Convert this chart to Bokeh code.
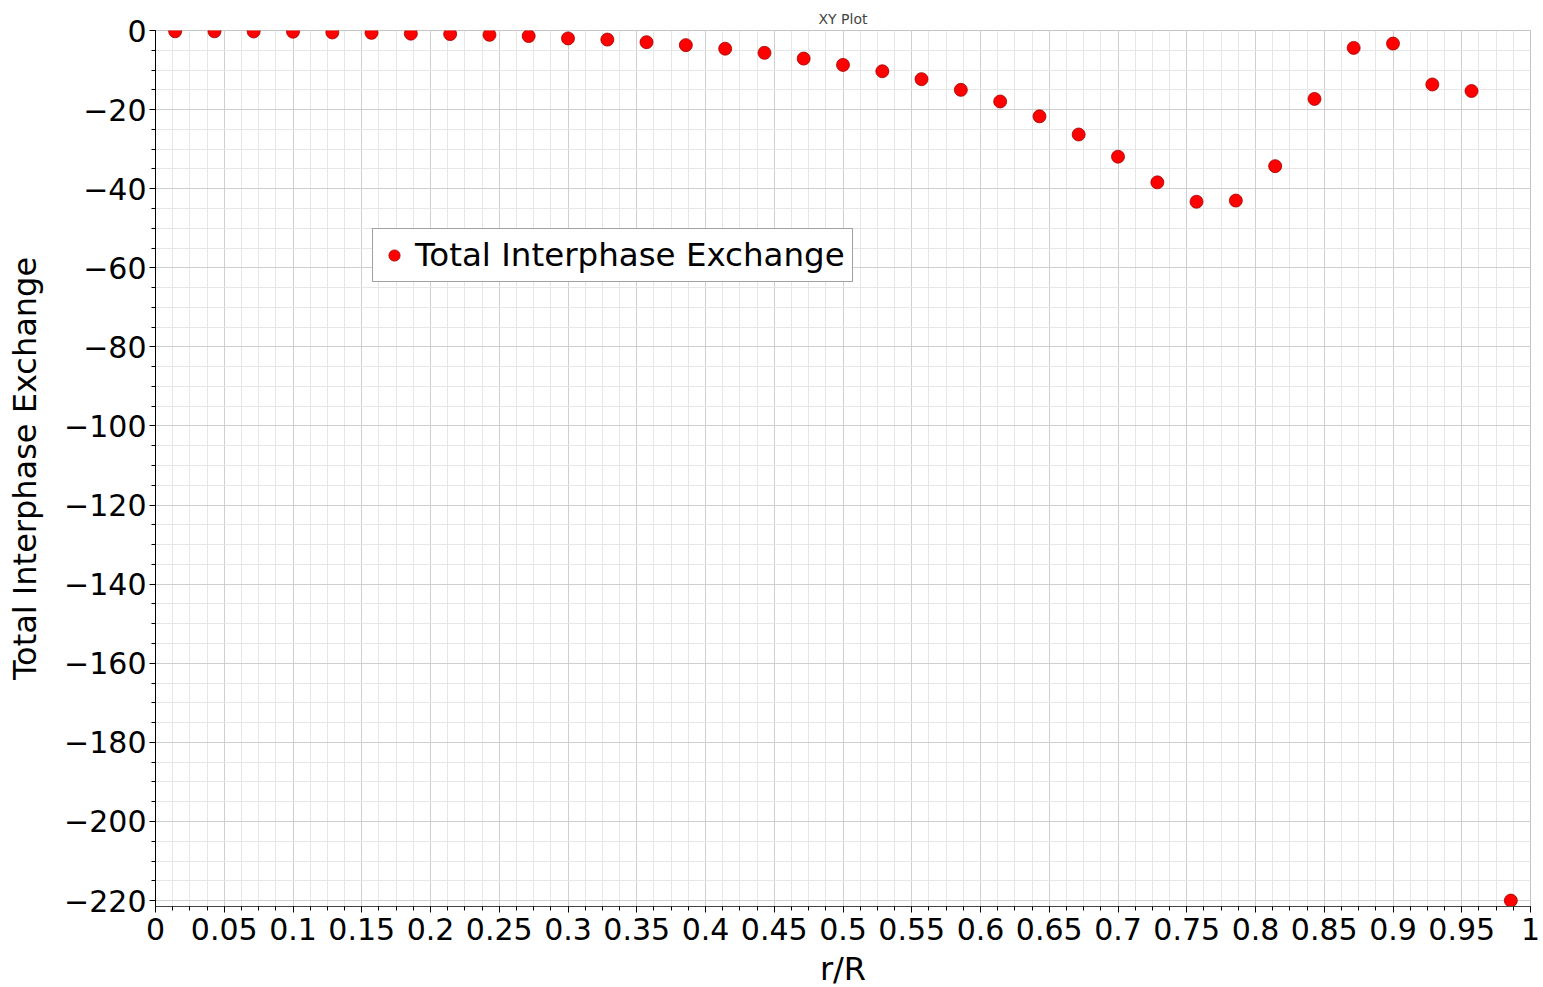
from bokeh.plotting import figure
from bokeh.models import Range1d, FixedTicker, Legend, LegendItem
from bokeh.embed import file_html
from bokeh.resources import INLINE

# Radial position (r/R) of each sample bin
r_over_R = [0.0143, 0.0429, 0.0714, 0.1000, 0.1286, 0.1571, 0.1857, 0.2143,
            0.2429, 0.2714, 0.3000, 0.3286, 0.3571, 0.3857, 0.4143, 0.4429,
            0.4714, 0.5000, 0.5286, 0.5571, 0.5857, 0.6143, 0.6429, 0.6714,
            0.7000, 0.7286, 0.7571, 0.7857, 0.8143, 0.8429, 0.8714, 0.9000,
            0.9286, 0.9571, 0.9857]

# Total interphase exchange at each radial bin
exchange = [-0.2, -0.2, -0.25, -0.3, -0.5, -0.6, -0.8, -0.9, -1.1, -1.4,
            -2.0, -2.3, -2.95, -3.7, -4.6, -5.65, -7.1, -8.7, -10.3, -12.3,
            -15.0, -17.95, -21.7, -26.3, -31.9, -38.4, -43.3, -43.0, -34.3,
            -17.3, -4.4, -3.3, -13.65, -15.3, -220.0]

x_ticks = [0, 0.05, 0.1, 0.15, 0.2, 0.25, 0.3, 0.35, 0.4, 0.45, 0.5,
           0.55, 0.6, 0.65, 0.7, 0.75, 0.8, 0.85, 0.9, 0.95, 1]
x_tick_labels = ["0", "0.05", "0.1", "0.15", "0.2", "0.25", "0.3", "0.35",
                 "0.4", "0.45", "0.5", "0.55", "0.6", "0.65", "0.7", "0.75",
                 "0.8", "0.85", "0.9", "0.95", "1"]
y_ticks = [0, -20, -40, -60, -80, -100, -120, -140, -160, -180, -200, -220]
y_tick_labels = ["0", "\u221220", "\u221240", "\u221260", "\u221280",
                 "\u2212100", "\u2212120", "\u2212140", "\u2212160",
                 "\u2212180", "\u2212200", "\u2212220"]

FONT = "DejaVu Sans"

p = figure(width=1543, height=987, frame_width=1375, frame_height=876,
           output_backend="svg", toolbar_location=None,
           x_range=Range1d(0, 1), y_range=Range1d(-221.5, 0),
           min_border_left=155, min_border_right=13,
           min_border_top=30, min_border_bottom=81,
           title="XY Plot")

p.title.align = "center"
p.title.text_font = FONT
p.title.text_font_size = "14px"
p.title.text_font_style = "normal"
p.title.text_color = "#444444"
p.title.standoff = 8

p.background_fill_color = "white"
p.border_fill_color = "white"
p.outline_line_color = "#c4c4c4"
p.outline_line_width = 1

# ticks: majors every 0.05 / 20, minors split each interval into four
minor_x = [i * 0.0125 for i in range(81)]
minor_y = [-i * 5 for i in range(45)]
p.xaxis.ticker = FixedTicker(ticks=x_ticks, minor_ticks=minor_x)
p.yaxis.ticker = FixedTicker(ticks=y_ticks, minor_ticks=minor_y)
p.xaxis.major_label_overrides = dict(zip(x_ticks, x_tick_labels))
p.yaxis.major_label_overrides = dict(zip(y_ticks, y_tick_labels))

for ax in (p.xaxis, p.yaxis):
    ax.major_label_text_font = FONT
    ax.major_label_text_font_size = "30px"
    ax.major_label_text_color = "black"
    ax.axis_label_text_font = FONT
    ax.axis_label_text_font_size = "32px"
    ax.axis_label_text_font_style = "normal"
    ax.axis_label_text_color = "black"
    ax.major_tick_in = 0
    ax.major_tick_out = 6
    ax.minor_tick_in = 0
    ax.minor_tick_out = 4
    ax.major_tick_line_color = "black"
    ax.minor_tick_line_color = "black"

p.xaxis.axis_label = "r/R"
p.yaxis.axis_label = "Total Interphase Exchange"
p.xaxis.axis_line_color = "#444444"
p.yaxis.axis_line_color = "black"
p.xaxis.major_label_standoff = 5
p.yaxis.major_label_standoff = 3
p.xaxis.axis_label_standoff = 7
p.yaxis.axis_label_standoff = 17

p.xgrid.grid_line_color = "#cfcfcf"
p.ygrid.grid_line_color = "#cfcfcf"
p.xgrid.minor_grid_line_color = "#e6e6e6"
p.ygrid.minor_grid_line_color = "#e6e6e6"
p.xgrid.grid_line_width = 1
p.ygrid.grid_line_width = 1

pts = p.scatter(r_over_R, exchange, size=13, marker="circle",
                fill_color="#ff0000", line_color="#a00000", line_width=0.8)

legend = Legend(items=[LegendItem(label="Total Interphase Exchange", renderers=[pts])],
                location=(217, 624), orientation="vertical")
legend.label_text_font = FONT
legend.label_text_font_size = "32.5px"
legend.label_text_color = "black"
legend.border_line_color = "#444444"
legend.border_line_width = 1
legend.background_fill_color = "white"
legend.background_fill_alpha = 1
legend.margin = 0
legend.padding = 7
legend.glyph_width = 28
legend.glyph_height = 30
legend.label_standoff = 7
legend.label_height = 30
p.add_layout(legend, "center")

open("out.html", "w").write(file_html(p, INLINE))
